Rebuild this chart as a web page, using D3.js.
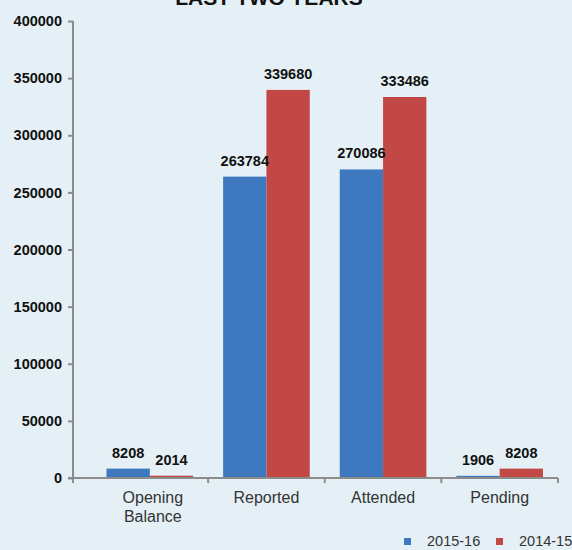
<!DOCTYPE html>
<html>
<head>
<meta charset="utf-8">
<script src="https://cdn.jsdelivr.net/npm/d3@7"></script>
<style>
  body { margin: 0; background: #e4f0f5; }
  svg { display: block; font-family: "Liberation Sans", Arial, sans-serif; }
</style>
</head>
<body>
<script>
// les données
var categories = ["Opening Balance", "Reported", "Attended", "Pending"];
var series = ["2015-16", "2014-15"];
var values2015 = [8208, 263784, 270086, 1906];
var values2014 = [2014, 339680, 333486, 8208];
var yTicks = [0, 50000, 100000, 150000, 200000, 250000, 300000, 350000, 400000];
var colors = ["#3e78be", "#c24846"];

var width = 572, height = 550;
var axisLeft = 73, plotLeft = 91.5, plotRight = 558;
var plotTop = 21, plotBottom = 478;

var svg = d3.select("body").append("svg")
            .attr("width", width)
            .attr("height", height)
            .style("background", "#e4f0f5");

// titre (coupé en haut)
svg.append("text")
   .attr("x", 269)
   .attr("y", 5)
   .attr("text-anchor", "middle")
   .style("font-size", "21px")
   .style("font-weight", "bold")
   .style("fill", "#111")
   .text("LAST TWO YEARS");

var data = categories.map(function(c, i) {
  return {cat: c, vals: [values2015[i], values2014[i]]};
});

var x = d3.scaleBand().domain(categories).range([plotLeft, plotRight]);
var x1 = d3.scaleBand().domain(series).range([15, x.bandwidth() - 15]);
var y = d3.scaleLinear().domain([0, 400000]).range([plotBottom, plotTop]);

// axe Y
var axeY = d3.axisLeft(y).tickValues(yTicks).tickFormat(d3.format("d")).tickSize(5).tickPadding(6);
var groupeY = svg.append("g")
                 .attr("transform", "translate(" + axisLeft + ",0)")
                 .call(axeY);
groupeY.select(".domain").remove();
groupeY.append("line")
       .attr("x1", 0).attr("x2", 0)
       .attr("y1", y(400000)).attr("y2", plotBottom + 5)
       .attr("stroke", "#8c8c8c").attr("stroke-width", 2);
groupeY.selectAll(".tick line").attr("stroke", "#8c8c8c").attr("stroke-width", 2);
groupeY.selectAll("text")
       .style("font-size", "14.5px")
       .style("font-weight", "bold")
       .style("fill", "#111")
       .style("font-family", "'Liberation Sans', Arial, sans-serif");

// barres
var groups = svg.selectAll(".grp")
                .data(data)
                .enter().append("g")
                .attr("transform", function(d) { return "translate(" + x(d.cat) + ",0)"; });

groups.selectAll("rect")
      .data(function(d) { return d.vals.map(function(v, i) { return {s: series[i], v: v, i: i}; }); })
      .enter().append("rect")
      .attr("x", function(d) { return x1(d.s); })
      .attr("width", x1.bandwidth())
      .attr("y", function(d) { return y(d.v); })
      .attr("height", function(d) { return plotBottom - y(d.v); })
      .attr("fill", function(d) { return colors[d.i]; });

groups.selectAll(".lbl")
      .data(function(d) { return d.vals.map(function(v, i) { return {s: series[i], v: v}; }); })
      .enter().append("text")
      .attr("x", function(d) { return x1(d.s) + x1.bandwidth() / 2; })
      .attr("y", function(d) { return y(d.v) - 11; })
      .attr("text-anchor", "middle")
      .style("font-size", "14.5px")
      .style("font-weight", "bold")
      .style("fill", "#111")
      .text(function(d) { return d.v; });

// axe X
svg.append("line")
   .attr("x1", axisLeft - 5).attr("x2", plotRight)
   .attr("y1", plotBottom).attr("y2", plotBottom)
   .attr("stroke", "#8c8c8c").attr("stroke-width", 2);

var xTickPos = [axisLeft].concat(categories.map(function(c) { return x(c) + x.bandwidth(); }));
svg.selectAll(".xt")
   .data(xTickPos)
   .enter().append("line")
   .attr("x1", function(d) { return d; }).attr("x2", function(d) { return d; })
   .attr("y1", plotBottom).attr("y2", plotBottom + 5)
   .attr("stroke", "#8c8c8c").attr("stroke-width", 2);

svg.selectAll(".cat")
   .data(categories)
   .enter().append("text")
   .attr("x", function(d) { return x(d) + x.bandwidth() / 2 + (d === "Opening Balance" ? 3 : 0); })
   .attr("y", 503)
   .attr("text-anchor", "middle")
   .style("font-size", "16px")
   .style("fill", "#333")
   .each(function(d) {
     var words = d.split(" ");
     var t = d3.select(this);
     words.forEach(function(w, i) {
       t.append("tspan")
        .attr("x", t.attr("x"))
        .attr("dy", i === 0 ? 0 : 19)
        .text(w);
     });
   });

// légende
var legend = svg.selectAll(".leg")
                .data(series)
                .enter().append("g")
                .attr("transform", function(d, i) { return "translate(" + (404 + i * 92) + ",538)"; });
legend.append("rect")
      .attr("width", 7).attr("height", 7)
      .attr("fill", function(d, i) { return colors[i]; });
legend.append("text")
      .attr("x", 23).attr("y", 8)
      .style("font-size", "14.5px")
      .style("fill", "#333")
      .text(function(d) { return d; });
</script>
</body>
</html>
